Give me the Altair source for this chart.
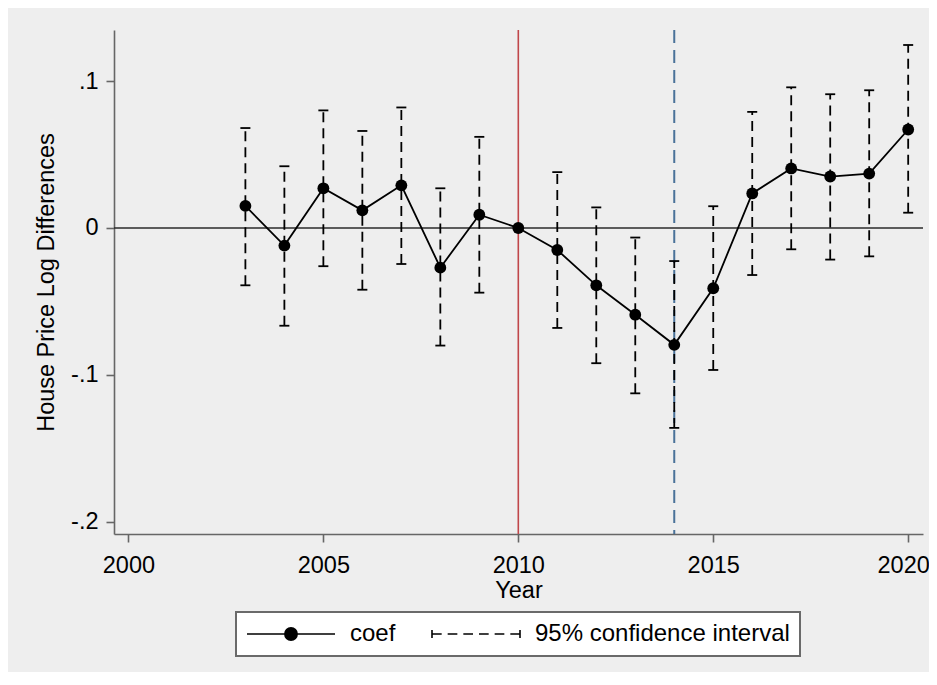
import altair as alt
import pandas as pd

# ---------------- data ----------------
years = [2003, 2004, 2005, 2006, 2007, 2008, 2009, 2010, 2011, 2012,
         2013, 2014, 2015, 2016, 2017, 2018, 2019, 2020]
coef = [0.015, -0.012, 0.027, 0.012, 0.029, -0.027, 0.009, 0.0, -0.015, -0.039,
        -0.059, -0.0795, -0.041, 0.0235, 0.0405, 0.035, 0.037, 0.067]

ci_years = [2003, 2004, 2005, 2006, 2007, 2008, 2009, 2011, 2012,
            2013, 2014, 2015, 2016, 2017, 2018, 2019, 2020]
ci_low = [-0.039, -0.0665, -0.026, -0.042, -0.0245, -0.080, -0.044, -0.068, -0.092,
          -0.1125, -0.136, -0.0966, -0.032, -0.0145, -0.0215, -0.0193, 0.0104]
ci_high = [0.068, 0.042, 0.080, 0.066, 0.082, 0.027, 0.062, 0.038, 0.014,
           -0.0065, -0.0225, 0.0148, 0.079, 0.0957, 0.091, 0.0937, 0.1245]

zero_line = [0.0]
red_line_year = [2010]
blue_line_year = [2014]

x_ticks = [2000, 2005, 2010, 2015, 2020]
y_ticks = [-0.2, -0.1, 0.0, 0.1]
y_tick_labels = ["-.2", "-.1", "0", ".1"]

legend_labels = ["coef", "95% confidence interval"]

# ---------------- tables ----------------
df = pd.DataFrame({"year": years, "coef": coef})
ci = pd.DataFrame({"year": ci_years, "lo": ci_low, "hi": ci_high})
zero_df = pd.DataFrame({"v": zero_line})
red_df = pd.DataFrame({"year": red_line_year})
blue_df = pd.DataFrame({"year": blue_line_year})
leg_df = pd.DataFrame({"series": legend_labels})

FONT = "Liberation Sans"
FS = 23.5

x_scale = alt.Scale(domain=[1999.63, 2020.38], nice=False, zero=False)
y_scale = alt.Scale(domain=[-0.2082, 0.1347], nice=False, zero=False)

label_expr = " : ".join(
    f"abs(datum.value - ({v})) < 0.001 ? '{l}'" for v, l in zip(y_ticks, y_tick_labels)
) + " : ''"

x_axis = alt.Axis(
    values=x_ticks, format="d", labelPadding=11, titlePadding=2,
    labelOffset={"condition": {"test": f"datum.value == {x_ticks[-1]}", "value": -5}, "value": 0},
)
y_axis = alt.Axis(values=y_ticks, labelExpr=label_expr, labelPadding=8, titlePadding=12)

X_TITLE = "Year"
Y_TITLE = "House Price Log Differences"


def X(field):
    return alt.X(f"{field}:Q", scale=x_scale, axis=x_axis, title=X_TITLE)


def Y(field):
    return alt.Y(f"{field}:Q", scale=y_scale, axis=y_axis, title=Y_TITLE)


zero_rule = alt.Chart(zero_df).mark_rule(color="#2a2a2a", strokeWidth=1.6).encode(y=Y("v"))
red_rule = alt.Chart(red_df).mark_rule(color="#c0474a", strokeWidth=1.6).encode(x=X("year"))
blue_rule = alt.Chart(blue_df).mark_rule(
    color="#4a7299", strokeWidth=2, strokeDash=[13, 7]
).encode(x=X("year"))

ci_rule = alt.Chart(ci).mark_rule(
    color="black", strokeWidth=1.8, strokeDash=[10, 6]
).encode(x=X("year"), y=Y("lo"), y2="hi")
cap_lo = alt.Chart(ci).mark_tick(
    color="black", orient="horizontal", size=10, thickness=1.8, opacity=1
).encode(x=X("year"), y=Y("lo"))
cap_hi = alt.Chart(ci).mark_tick(
    color="black", orient="horizontal", size=10, thickness=1.8, opacity=1
).encode(x=X("year"), y=Y("hi"))

line = alt.Chart(df).mark_line(color="black", strokeWidth=1.8).encode(x=X("year"), y=Y("coef"))
pts = alt.Chart(df).mark_circle(color="black", size=140, opacity=1).encode(x=X("year"), y=Y("coef"))

# legend symbols (unit coordinates, drawn with strokes only)
disk = "".join(
    f"M{-r:.3f},0A{r:.3f},{r:.3f},0,1,0,{r:.3f},0A{r:.3f},{r:.3f},0,1,0,{-r:.3f},0"
    for r in (0.015, 0.04, 0.065, 0.09, 0.115, 0.14)
)
coef_path = "M-1,0L1,0" + disk
dash_len = 0.22
gap = (2 - 6 * dash_len) / 5
segs = []
x0 = -1.0
for i in range(6):
    segs.append(f"M{x0:.3f},0L{x0 + dash_len:.3f},0")
    x0 += dash_len + gap
ci_path = "M-1,-0.09L-1,0.09M1,-0.09L1,0.09" + "".join(segs)

legend_layer = alt.Chart(leg_df).mark_point(
    filled=False, color="black", opacity=0, strokeWidth=1.6
).encode(
    shape=alt.Shape(
        "series:N",
        scale=alt.Scale(domain=legend_labels, range=[coef_path, ci_path]),
        legend=alt.Legend(
            title=None,
            orient="none",
            legendX=122,
            legendY=582,
            direction="horizontal",
            columns=2,
            symbolSize=7744,
            clipHeight=24,
            labelFontSize=24,
            labelFont=FONT,
            labelColor="black",
            labelOffset=14,
            labelLimit=500,
            columnPadding=35,
            padding=10,
            strokeColor="#6a6a6a",
            fillColor="white",
            symbolStrokeColor="black",
            symbolStrokeWidth=1.6,
            symbolOpacity=1,
        ),
    )
)

chart = alt.layer(
    zero_rule, red_rule, blue_rule, ci_rule, cap_lo, cap_hi, line, pts, legend_layer
).properties(
    width=809,
    height=504,
    padding={"left": 106, "top": 22, "right": 6, "bottom": 138},
    autosize=alt.AutoSizeParams(type="none"),
    background="#eeeeee",
).configure_view(
    fill="white", stroke=None
).configure_legend(
    strokeWidth=2
).configure_axis(
    labelFont=FONT,
    labelFontSize=FS,
    labelColor="black",
    titleFont=FONT,
    titleFontSize=FS,
    titleFontWeight="normal",
    titleColor="black",
    domainColor="#666666",
    domainWidth=1.6,
    tickColor="#666666",
    tickWidth=1.6,
    tickSize=8,
    grid=False,
)

chart.save("out.html", embed_options={"renderer": "svg", "actions": False})
